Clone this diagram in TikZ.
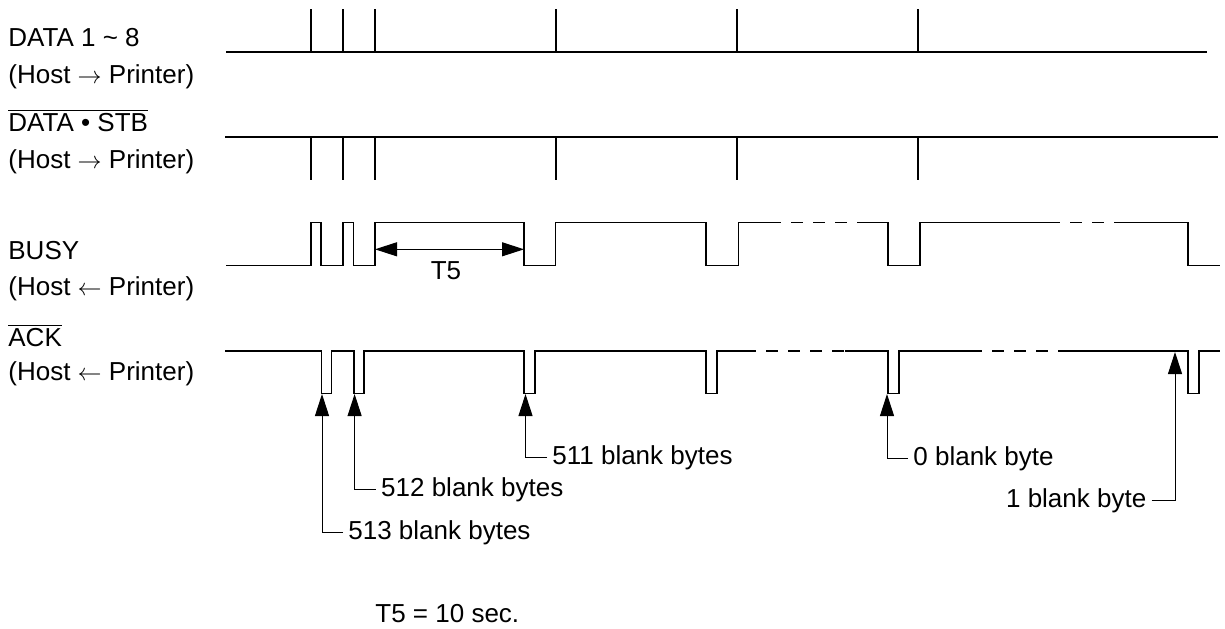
\documentclass[tikz,border=0pt]{standalone}
\usepackage{fontspec}
\setmainfont{Liberation Sans}
\usepackage{tikz}
\usetikzlibrary{arrows.meta}
\tikzset{every picture/.style={font=\fontsize{13}{15}\selectfont}}

\begin{document}
\begin{tikzpicture}[x=0.5pt, y=-0.5pt]
  \tikzstyle{sig} = [line width=1pt]
  \tikzstyle{wave} = [line width=0.75pt]
  \tikzstyle{gapline} = [wave, dash pattern=on 6pt off 5pt, dash phase=6pt]
  \tikzstyle{lead} = [line width=0.5pt]
  \tikzstyle{uptip} = [-{Triangle[length=11pt,width=7pt]}]
  \tikzstyle{signame} = [anchor=base west, inner sep=0pt]
  \tikzstyle{bytenote} = [inner xsep=2.5pt, inner ysep=0pt, text height=0.72em, text depth=0pt]

  \useasboundingbox (0,0) rectangle (1225,628);

  % signal names
  \node (data) [signame] at (8,46.7) {DATA 1 \textasciitilde{} 8};
  \node (datadir) [signame] at (8,83.3) {(Host $\rightarrow$ Printer)};
  \node (stb) [signame] at (8,131.7) {$\overline{\mbox{DATA \textbullet{} STB}}$};
  \node (stbdir) [signame] at (8,168.3) {(Host $\rightarrow$ Printer)};
  \node (busy) [signame] at (8,259.3) {BUSY};
  \node (busydir) [signame] at (8,295) {(Host $\leftarrow$ Printer)};
  \node (ack) [signame] at (8,346) {$\overline{\mbox{ACK}}$};
  \node (ackdir) [signame] at (8,380) {(Host $\leftarrow$ Printer)};

  % data and strobe
  \draw [sig] (226,52) -- (1207,52);
  \draw [sig] (225,137) -- (1218,137);
  \foreach \x in {310.7,343,374.7,555.7,737,918} {
    \draw [sig] (\x,52) -- (\x,9);
    \draw [sig] (\x,137) -- (\x,180);
  }

  % busy
  \draw [wave] (226,265.7) -| (311,222.7) -| (321,265.7) -| (343,222.7) -| (353.3,265.7)
    -| (375,222.7) -| (524,265.7) -| (555.7,222.7) -| (706,265.7) -| (738.4,222.7) -- (781,222.7);
  \draw [gapline] (781,222.7) -- (858,222.7);
  \draw [wave] (858,222.7) -| (888,265.7) -| (920,222.7) -- (1060,222.7);
  \draw [gapline] (1060,222.7) -- (1124,222.7);
  \draw [wave] (1124,222.7) -| (1188,265.7) -- (1220,265.7);

  % ack
  \draw [wave] (225,351) -| (321.7,393.3) -| (331.7,351) -| (354,393.3) -| (364,351)
    -| (524,393.3) -| (535,351) -| (706,393.3) -| (717,351) -- (756,351);
  \draw [gapline] (756,351) -- (845,351);
  \draw [wave] (845,351) -| (888,393.3) -| (899,351) -- (982,351);
  \draw [gapline] (982,351) -- (1059,351);
  \draw [wave] (1059,351) -| (1188,393.3) -| (1199,351) -- (1220,351);

  % T5 span
  \coordinate (t5a) at (375,249.3);
  \coordinate (t5b) at (524,249.3);
  \draw [lead, {Triangle[length=11pt,width=7pt]}-{Triangle[length=11pt,width=7pt]}] (t5a) -- (t5b);
  \node (t5) at (446,271) {T5};

  % blank byte marks
  \coordinate (a513) at (322,394);
  \coordinate (a512) at (354.6,394);
  \coordinate (a511) at (525.5,394);
  \coordinate (a0) at (887,394);
  \coordinate (a1) at (1175,352);
  \node (n513) [bytenote, anchor=west] at (343,532) {513 blank bytes};
  \node (n512) [bytenote, anchor=west] at (375.8,489) {512 blank bytes};
  \node (n511) [bytenote, anchor=west] at (547,457.7) {511 blank bytes};
  \node (n0) [bytenote, anchor=west] at (908,458.3) {0 blank byte};
  \node (n1) [bytenote, anchor=east] at (1151.7,500) {1 blank byte};

  \draw [lead, uptip] (n513.west) -| (a513);
  \draw [lead, uptip] (n512.west) -| (a512);
  \draw [lead, uptip] (n511.west) -| (a511);
  \draw [lead, uptip] (n0.west) -| (a0);
  \draw [lead, uptip] (n1.east) -| (a1);

  \node (t5val) [signame] at (375,622.7) {T5 = 10 sec.};
\end{tikzpicture}
\end{document}
